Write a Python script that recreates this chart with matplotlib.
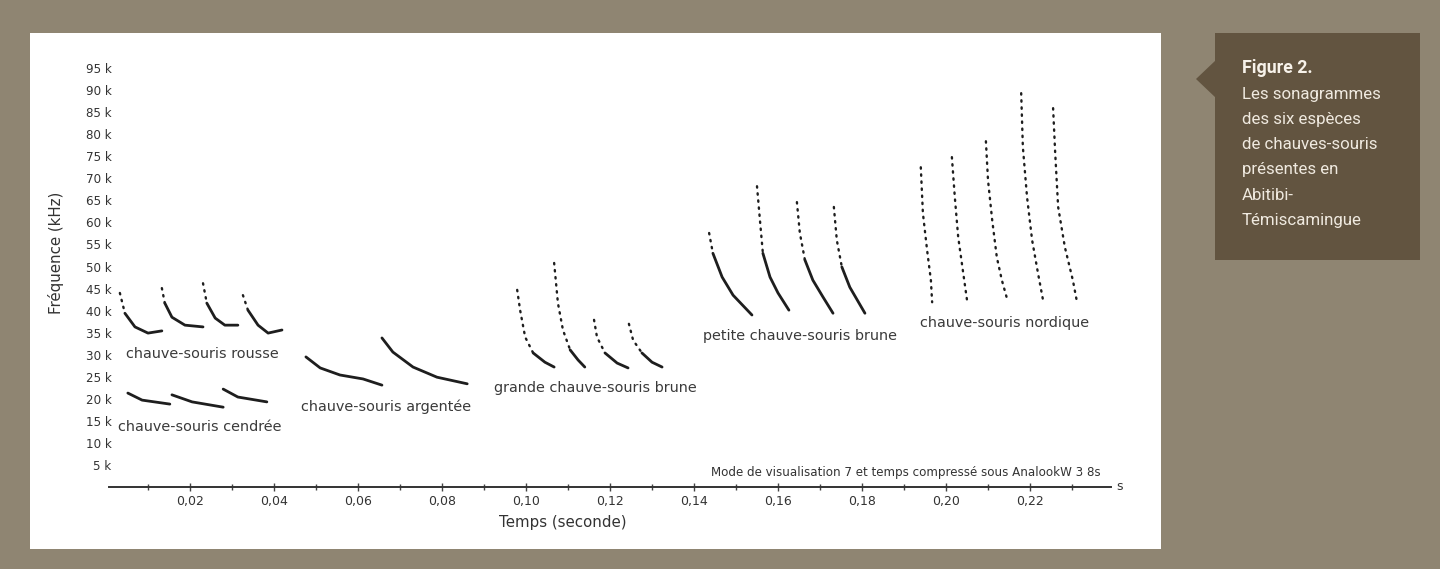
import matplotlib
matplotlib.use('Agg')
import matplotlib.pyplot as plt
from matplotlib.patches import Rectangle, Polygon

# call contours: time (s), frequency (kHz)
rousse_t = [[0.0033, 0.0045, 0.0069, 0.0100, 0.0133],
            [0.0133, 0.0140, 0.0157, 0.0188, 0.0231],
            [0.0231, 0.0240, 0.0260, 0.0283, 0.0314],
            [0.0326, 0.0338, 0.0362, 0.0386, 0.0419]]
rousse_f = [[44.0, 39.4, 36.3, 34.9, 35.4],
            [45.1, 41.7, 38.5, 36.7, 36.3],
            [46.2, 41.7, 38.3, 36.7, 36.7],
            [43.5, 40.1, 36.7, 34.9, 35.6]]

cendree_t = [[0.0052, 0.0086, 0.0152],
             [0.0157, 0.0205, 0.0279],
             [0.0279, 0.0314, 0.0383]]
cendree_f = [[21.3, 19.7, 18.8],
             [20.9, 19.3, 18.1],
             [22.2, 20.4, 19.3]]

argentee_t = [[0.0476, 0.0510, 0.0557, 0.0612, 0.0657],
              [0.0657, 0.0683, 0.0731, 0.0788, 0.0860]]
argentee_f = [[29.5, 27.0, 25.4, 24.5, 23.1],
              [33.8, 30.6, 27.2, 24.9, 23.4]]

grande_t = [[0.0979, 0.0986, 0.0998, 0.1017, 0.1045, 0.1067],
            [0.1067, 0.1076, 0.1088, 0.1105, 0.1124, 0.1140],
            [0.1162, 0.1169, 0.1188, 0.1217, 0.1243],
            [0.1245, 0.1255, 0.1276, 0.1300, 0.1324]]
grande_f = [[44.7, 40.1, 34.0, 30.4, 28.3, 27.2],
            [50.8, 41.7, 35.6, 31.1, 28.8, 27.2],
            [37.9, 34.0, 30.4, 28.1, 27.0],
            [37.0, 33.3, 30.4, 28.3, 27.2]]

petite_t = [[0.1436, 0.1445, 0.1467, 0.1493, 0.1538],
            [0.1550, 0.1557, 0.1564, 0.1581, 0.1600, 0.1626],
            [0.1645, 0.1652, 0.1664, 0.1683, 0.1707, 0.1731],
            [0.1733, 0.1740, 0.1752, 0.1771, 0.1807]]
petite_f = [[57.6, 53.0, 47.6, 43.5, 39.0],
            [68.2, 60.5, 53.0, 47.6, 44.0, 40.1],
            [64.6, 57.6, 51.5, 46.9, 43.1, 39.4],
            [63.5, 56.0, 49.9, 45.3, 39.4]]

nordique_t = [[0.1940, 0.1945, 0.1955, 0.1964, 0.1967],
              [0.2014, 0.2021, 0.2029, 0.2040, 0.2050],
              [0.2095, 0.2100, 0.2110, 0.2121, 0.2133, 0.2145],
              [0.2179, 0.2183, 0.2193, 0.2205, 0.2219, 0.2231],
              [0.2255, 0.2260, 0.2267, 0.2283, 0.2302, 0.2312]]
nordique_f = [[72.5, 62.1, 53.7, 46.9, 41.9],
              [74.8, 65.7, 56.7, 49.2, 42.4],
              [78.4, 69.6, 60.5, 52.1, 46.9, 42.8],
              [89.3, 77.1, 65.7, 56.0, 48.5, 42.4],
              [85.9, 75.7, 63.5, 54.4, 46.9, 41.9]]

species_labels = ['chauve-souris rousse', 'chauve-souris cendrée',
                  'chauve-souris argentée', 'grande chauve-souris brune',
                  'petite chauve-souris brune', 'chauve-souris nordique']
# where each name sits (time, kHz)
label_t = [0.0229, 0.0224, 0.0667, 0.1165, 0.1652, 0.2140]
label_f = [30.1, 13.6, 18.1, 22.4, 34.2, 37.2]

y_ticks = list(range(5, 100, 5))
x_major = [0.02, 0.04, 0.06, 0.08, 0.10, 0.12, 0.14, 0.16, 0.18, 0.20, 0.22]
x_minor = [0.01, 0.03, 0.05, 0.07, 0.09, 0.11, 0.13, 0.15, 0.17, 0.19, 0.21, 0.23]

caption_title = 'Figure 2.'
caption_lines = ['Les sonagrammes', 'des six espèces', 'de chauves-souris',
                 'présentes en', 'Abitibi-', 'Témiscamingue']

W, H = 1440, 569
ink = '#1e1e1e'
txt = '#333333'


def fx(px):
    return px / W


def fy(py):
    return 1 - py / H


def _plot_call(ax, t, f, dot_above=None, dotted_all=False):
    dots = dict(color=ink, lw=1.7, linestyle=(0, (0.6, 2.4)), dash_capstyle='round')
    if dotted_all:
        ax.plot(t, f, **dots)
        return
    if dot_above is None:
        ax.plot(t, f, color=ink, lw=2.0, solid_capstyle='round')
        return
    k = next(i for i, v in enumerate(f) if v <= dot_above)
    if k > 0:
        ax.plot(t[:k + 1], f[:k + 1], **dots)
    ax.plot(t[k:], f[k:], color=ink, lw=2.0, solid_capstyle='round')


fig = plt.figure(figsize=(W / 100, H / 100), dpi=100)
fig.patch.set_facecolor('#8f8572')

# white panel and caption box (behind the axes)
fig.patches.append(Rectangle((fx(30), fy(549)), fx(1131), (549 - 33) / H,
                             transform=fig.transFigure, facecolor='white',
                             edgecolor='none', zorder=-2))
fig.patches.append(Rectangle((fx(1215), fy(260)), fx(205), (260 - 33) / H,
                             transform=fig.transFigure, facecolor='#625440',
                             edgecolor='none', zorder=-2))
fig.patches.append(Polygon([(fx(1216), fy(60)), (fx(1196), fy(79)), (fx(1216), fy(98))],
                           closed=True, transform=fig.transFigure,
                           facecolor='#625440', edgecolor='none', zorder=-2))

fig.text(fx(1242), fy(68), caption_title, color='#f7f2ea', fontsize=12.8,
         fontweight='bold', family='Roboto', va='center', ha='left')
for i, line in enumerate(caption_lines):
    fig.text(fx(1242), fy(94 + i * 25.3), line, color='#efe9df', fontsize=12.2,
             family='Roboto', va='center', ha='left')

ax = fig.add_axes([fx(106), fy(487), (1114 - 106) / W, (487 - 46) / H])
ax.set_zorder(2)
ax.set_facecolor('none')
ax.set_xlim(0, 0.24)
ax.set_ylim(0, 100)

for t, f in zip(rousse_t, rousse_f):
    _plot_call(ax, t, f, dot_above=42)
for t, f in zip(cendree_t, cendree_f):
    _plot_call(ax, t, f)
for t, f in zip(argentee_t, argentee_f):
    _plot_call(ax, t, f)
for t, f in zip(grande_t, grande_f):
    _plot_call(ax, t, f, dot_above=33)
for t, f in zip(petite_t, petite_f):
    _plot_call(ax, t, f, dot_above=53)
for t, f in zip(nordique_t, nordique_f):
    _plot_call(ax, t, f, dotted_all=True)

for name, lt, lf in zip(species_labels, label_t, label_f):
    ax.text(lt, lf, name, color='#3a3a3a', fontsize=10.4, ha='center', va='center')

ax.text(0.2367, 3.4, 'Mode de visualisation 7 et temps compressé sous AnalookW 3 8s',
        color=txt, fontsize=8.6, ha='right', va='center')

for s in ['top', 'right', 'left']:
    ax.spines[s].set_visible(False)
ax.spines['bottom'].set_color('#333333')
ax.spines['bottom'].set_linewidth(1.4)
ax.spines['bottom'].set_bounds(0.0007, 0.2393)

ax.set_xticks(x_major)
ax.set_xticklabels([('%.2f' % v).replace('.', ',') for v in x_major])
ax.set_xticks(x_minor, minor=True)
ax.tick_params(axis='x', which='major', direction='inout', length=6, width=1,
               color='#444444', labelsize=9, labelcolor=txt, pad=3)
ax.tick_params(axis='x', which='minor', direction='inout', length=4, width=1,
               color='#444444')
ax.text(0.2405, 0, 's', color=txt, fontsize=9, ha='left', va='center')

ax.set_yticks(y_ticks)
ax.set_yticklabels(['%d k' % v for v in y_ticks])
ax.tick_params(axis='y', length=0, labelsize=8.6, labelcolor=txt, pad=-4)

fig.text(fx(563), fy(523), 'Temps (seconde)', color=txt, fontsize=10.8,
         ha='center', va='center')
fig.text(fx(56), fy(253), 'Fréquence (kHz)', color=txt, fontsize=10.8,
         rotation=90, ha='center', va='center')

fig.savefig('out.png', dpi=100, facecolor=fig.get_facecolor())
